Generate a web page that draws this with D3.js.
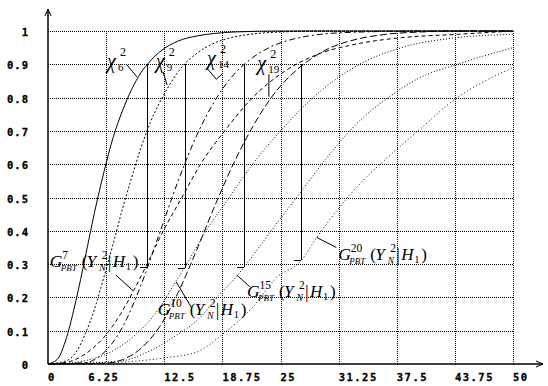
<!DOCTYPE html>
<html><head><meta charset="utf-8">
<script src="https://cdn.jsdelivr.net/npm/d3@7"></script>
<style>body{margin:0;background:#fff}svg{display:block}</style>
</head><body>
<script>
// ---- data ----
const xTicks = [0, 6.25, 12.5, 18.75, 25, 31.25, 37.5, 43.75, 50];
const xTickLabels = ["0", "6.25", "12.5", "18.75", "25", "31.25", "37.5", "43.75", "50"];
const yTicks = [0, 0.1, 0.2, 0.3, 0.4, 0.5, 0.6, 0.7, 0.8, 0.9, 1];
const yTickLabels = ["0", "0.1", "0.2", "0.3", "0.4", "0.5", "0.6", "0.7", "0.8", "0.9", "1"];

const chi6X = [0, 1, 2, 3, 4, 5, 6, 7, 8, 9, 10, 11, 12, 14, 16, 18, 20, 25, 50];
const chi6Y = [0, 0.014, 0.08, 0.19, 0.32, 0.455, 0.575, 0.68, 0.76, 0.825, 0.875, 0.91, 0.937, 0.97, 0.985, 0.993, 0.997, 1, 1];
const chi9X = [0, 2, 3, 4, 5, 6, 7, 8, 9, 10, 11, 12, 13, 14, 16, 18, 20, 25, 30, 50];
const chi9Y = [0, 0.01, 0.035, 0.09, 0.165, 0.26, 0.36, 0.465, 0.56, 0.65, 0.725, 0.785, 0.835, 0.878, 0.933, 0.965, 0.982, 0.997, 1, 1];
const chi14X = [0, 4, 6, 8, 10, 12, 14, 16, 18, 20, 22, 24, 26, 28, 30, 35, 40, 50];
const chi14Y = [0, 0.004, 0.034, 0.11, 0.237, 0.393, 0.55, 0.687, 0.793, 0.87, 0.92, 0.953, 0.973, 0.985, 0.992, 0.998, 1, 1];
const chi19X = [0, 6, 8, 10, 12, 14, 16, 18, 20, 22, 24, 26, 28, 30, 33, 36, 40, 45, 50];
const chi19Y = [0, 0.002, 0.013, 0.047, 0.112, 0.215, 0.343, 0.479, 0.605, 0.712, 0.8, 0.864, 0.911, 0.945, 0.974, 0.989, 0.997, 1, 1];

const g7X = [0, 2, 4, 6, 7.8, 9.2, 10.65, 12.4, 14.4, 16.4, 19, 22, 25.5, 29, 33, 38, 44, 50];
const g7Y = [0, 0.005, 0.03, 0.08, 0.15, 0.22, 0.3, 0.4, 0.5, 0.6, 0.7, 0.8, 0.88, 0.93, 0.96, 0.98, 0.99, 1];
const g10X = [0, 2, 4, 7, 9.5, 11.5, 13.8, 14.7, 17, 19.5, 22, 25, 28.5, 33.5, 38, 44, 50];
const g10Y = [0, 0.002, 0.01, 0.04, 0.09, 0.15, 0.25, 0.29, 0.4, 0.5, 0.6, 0.7, 0.8, 0.9, 0.95, 0.98, 0.99];
const g15X = [0, 3, 8, 11, 14, 16, 18.5, 20.3, 21.06, 24, 27, 30, 33.5, 36.6, 40, 44, 50];
const g15Y = [0, 0.002, 0.01, 0.04, 0.09, 0.13, 0.21, 0.264, 0.29, 0.4, 0.51, 0.62, 0.73, 0.8, 0.86, 0.9, 0.95];
const g20X = [0, 5, 10, 13, 16, 18.8, 22, 24.6, 27.2, 28.9, 33.5, 36.5, 39.8, 44, 47, 50];
const g20Y = [0, 0.002, 0.01, 0.02, 0.036, 0.09, 0.17, 0.26, 0.31, 0.38, 0.54, 0.62, 0.7, 0.8, 0.85, 0.89];

// 0.9-quantiles of chi-square and the G value reached there
const quantX = [10.645, 14.684, 21.064, 27.204];
const quantTop = 0.9;
const quantBottom = [0.292, 0.287, 0.292, 0.312];

// label texts
const chiDf = ["6", "9", "14", "19"];
const gK = ["7", "10", "15", "20"];

// ---- layout ----
const W = 548, H = 386;
const x = d3.scaleLinear().domain([0, 50]).range([48, 513]);
const y = d3.scaleLinear().domain([0, 1]).range([364, 31]);

const svg = d3.select("body").append("svg").attr("width", W).attr("height", H);

// grid
const grid = svg.append("g").attr("stroke", "#000").attr("stroke-width", 1)
  .attr("stroke-dasharray", "1,1").attr("shape-rendering", "crispEdges");
grid.selectAll("line.h").data(yTicks.slice(1)).join("line").attr("class", "h")
  .attr("x1", x(0)).attr("x2", x(50)).attr("y1", d => Math.round(y(d)) + 0.5).attr("y2", d => Math.round(y(d)) + 0.5);
grid.selectAll("line.v").data(xTicks.slice(1)).join("line").attr("class", "v")
  .attr("y1", y(1)).attr("y2", y(0)).attr("x1", d => Math.round(x(d)) + 0.5).attr("x2", d => Math.round(x(d)) + 0.5);

// axes
const ax = svg.append("g").attr("stroke", "#000").attr("fill", "none").attr("stroke-width", 1.5);
ax.append("line").attr("x1", x(0)).attr("x2", 543).attr("y1", y(0)).attr("y2", y(0));
ax.append("line").attr("x1", x(0)).attr("x2", x(0)).attr("y1", y(0)).attr("y2", 9);
ax.append("path").attr("d", `M${x(0) - 3},16 L${x(0)},9 L${x(0) + 3},16`).attr("stroke-width", 1);
ax.append("path").attr("d", `M536,${y(0) - 3} L543,${y(0)} L536,${y(0) + 3}`).attr("stroke-width", 1);

// tick labels
const tickFont = "'DejaVu Sans Mono', monospace";
svg.append("g").selectAll("text").data(yTicks).join("text")
  .attr("x", 29).attr("y", d => y(d) + 5).attr("text-anchor", "end")
  .attr("font-family", tickFont).attr("font-weight", "bold").attr("font-size", 10.5)
  .attr("stroke", "#000").attr("stroke-width", 0.3)
  .attr("letter-spacing", 1).text((d, i) => yTickLabels[i]);
svg.append("g").selectAll("text").data(xTicks).join("text")
  .attr("x", (d, i) => x(d) + (i === 1 ? -18 : 0)).attr("y", 381)
  .attr("font-family", tickFont).attr("font-weight", "bold").attr("font-size", 10.5)
  .attr("stroke", "#000").attr("stroke-width", 0.3)
  .attr("letter-spacing", 1.5).text((d, i) => xTickLabels[i]);

// curves
const line = d3.line().curve(d3.curveMonotoneX).x(d => x(d[0])).y(d => y(d[1]));
const zip = (a, b) => a.map((v, i) => [v, b[i]]);
const curves = [
  {d: zip(chi6X, chi6Y), dash: null},
  {d: zip(chi9X, chi9Y), dash: "2,2"},
  {d: zip(chi14X, chi14Y), dash: "6,3,2,3"},
  {d: zip(chi19X, chi19Y), dash: "7,3"},
  {d: zip(g7X, g7Y), dash: "4,3"},
  {d: zip(g10X, g10Y), dash: "1,2"},
  {d: zip(g15X, g15Y), dash: "1,2"},
  {d: zip(g20X, g20Y), dash: "1,2.5"}
];
svg.append("g").selectAll("path").data(curves).join("path")
  .attr("d", c => line(c.d)).attr("fill", "none").attr("stroke", "#000")
  .attr("stroke-width", 1).attr("stroke-dasharray", c => c.dash);

// quantile markers
const qm = svg.append("g").attr("stroke", "#000").attr("stroke-width", 1).attr("shape-rendering", "crispEdges");
qm.selectAll("line.v").data(quantX).join("line").attr("class", "v")
  .attr("x1", d => Math.round(x(d)) + 0.5).attr("x2", d => Math.round(x(d)) + 0.5)
  .attr("y1", y(quantTop)).attr("y2", (d, i) => y(quantBottom[i]));
qm.selectAll("line.t").data(quantX).join("line").attr("class", "t")
  .attr("x1", d => x(d) - 7).attr("x2", d => x(d) + 0.5)
  .attr("y1", (d, i) => Math.round(y(quantBottom[i])) + 0.5).attr("y2", (d, i) => Math.round(y(quantBottom[i])) + 0.5);

// leader lines (data coords)
const leaders = [
  [[8.5, 0.898], [9.57, 0.862]],
  [[12.37, 0.877], [12.8, 0.838]],
  [[17.1, 0.888], [18.1, 0.855], [18.8, 0.873]],
  [[23.75, 0.87], [23.75, 0.803]],
  [[7.3, 0.267], [9.15, 0.22]],
  [[13.77, 0.247], [15.4, 0.171]],
  [[20.3, 0.267], [21.7, 0.232]],
  [[28.9, 0.38], [31.0, 0.35]]
];
const ll = d3.line().x(d => x(d[0])).y(d => y(d[1]));
svg.append("g").selectAll("path").data(leaders).join("path")
  .attr("d", ll).attr("fill", "none").attr("stroke", "#000").attr("stroke-width", 1);

const serif = "'Liberation Serif', 'Times New Roman', serif";
function piece(g, dx, dy, txt, size, italic) {
  g.append("text").attr("x", dx).attr("y", dy).attr("font-family", serif)
    .attr("font-size", size).attr("font-style", italic ? "italic" : "normal").text(txt);
}

// chi labels (anchor positions in data coords)
const chiPos = [[6.45, 0.889], [11.7, 0.889], [17.2, 0.898], [22.6, 0.883]];
chiPos.forEach((p, i) => {
  const g = svg.append("g").attr("transform", `translate(${x(p[0])},${y(p[1])})`);
  piece(g, -1, 0, "χ", 20, true);
  piece(g, 12, -12, "2", 12, false);
  piece(g, 10, 3, chiDf[i], 11, false);
});

// G labels
const gPos = [[0.2, 0.291], [11.8, 0.147], [21.4, 0.201], [31.2, 0.312]];
gPos.forEach((p, i) => {
  const g = svg.append("g").attr("transform", `translate(${x(p[0])},${y(p[1])})`);
  piece(g, 0, 0, "G", 17.5, true);
  piece(g, 12.5, -8, gK[i], 11.5, false);
  piece(g, 11, 4, "PBT", 9, true);
  piece(g, 32, 0, "(", 17, false);
  piece(g, 37, 0, "Y", 17, true);
  piece(g, 52, -8, "2", 11.5, false);
  piece(g, 49.5, 4, "N", 9.5, true);
  piece(g, 58, 1, "|", 18, false);
  piece(g, 63, 0, "H", 17, true);
  piece(g, 76, 3, "1", 10.5, false);
  piece(g, 83, 0, ")", 17, false);
});
</script>
</body></html>
